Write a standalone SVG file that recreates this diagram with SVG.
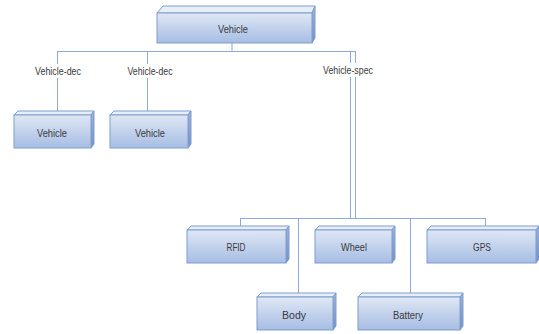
<svg xmlns="http://www.w3.org/2000/svg" width="539" height="334" viewBox="0 0 539 334">
<defs>
<linearGradient id="gf" x1="0" y1="0" x2="0" y2="1">
<stop offset="0" stop-color="#dfe7f5"/>
<stop offset="1" stop-color="#a6bde3"/>
</linearGradient>
<linearGradient id="gs" x1="0" y1="0" x2="0" y2="1">
<stop offset="0" stop-color="#9db4dc"/>
<stop offset="1" stop-color="#7390c4"/>
</linearGradient>
</defs>
<style>
.front{fill:url(#gf);stroke:#7f9dcf;stroke-width:1}
.top{fill:#e8eef8;stroke:#7f9dcf;stroke-width:1}
.side{fill:url(#gs);stroke:#7f9dcf;stroke-width:1}
.lbl{font-family:"Liberation Sans",Arial,sans-serif;font-size:11px;fill:#3a3a3a;text-anchor:middle}
.conn line{stroke:#8eaad8;stroke-width:1;fill:none}
.bg{fill:#ffffff}
</style>
<rect width="539" height="334" fill="#ffffff"/>
<g id="connectors" class="conn">
<line x1="232" y1="43" x2="232" y2="51"/>
<line x1="57" y1="51.5" x2="355" y2="51.5"/>
<line x1="57.5" y1="51" x2="57.5" y2="115"/>
<line x1="147.5" y1="51" x2="147.5" y2="115"/>
<line x1="350.5" y1="51" x2="350.5" y2="218"/>
<line x1="355.5" y1="51" x2="355.5" y2="218"/>
<line x1="240" y1="218.5" x2="485" y2="218.5"/>
<line x1="240.5" y1="218" x2="240.5" y2="227"/>
<line x1="485.5" y1="218" x2="485.5" y2="227"/>
<line x1="298.5" y1="218" x2="298.5" y2="294"/>
<line x1="410.5" y1="218" x2="410.5" y2="294"/>
</g>
<g id="edge-labels">
<rect class="bg" x="34" y="64" width="48" height="14"/>
<text class="lbl" x="58" y="75" textLength="46" lengthAdjust="spacingAndGlyphs">Vehicle-dec</text>
<rect class="bg" x="126" y="64" width="48" height="14"/>
<text class="lbl" x="150" y="75" textLength="45" lengthAdjust="spacingAndGlyphs">Vehicle-dec</text>
<rect class="bg" x="322" y="63" width="52" height="14"/>
<text class="lbl" x="348" y="74" textLength="50" lengthAdjust="spacingAndGlyphs">Vehicle-spec</text>
</g>
<g id="node-vehicle-root">
<polygon class="top" points="157,13 163,6 315,6 312,13"/>
<polygon class="side" points="312,13 315,6 315,38 312,43"/>
<rect class="front" x="157" y="13" width="155" height="30"/>
<text class="lbl" x="233" y="33" textLength="30" lengthAdjust="spacingAndGlyphs">Vehicle</text>
</g>
<g id="node-vehicle-1">
<polygon class="top" points="14,115 18,111 94,111 91,115"/>
<polygon class="side" points="91,115 94,111 94,144 91,148"/>
<rect class="front" x="14" y="115" width="77" height="33"/>
<text class="lbl" x="52" y="137" textLength="30" lengthAdjust="spacingAndGlyphs">Vehicle</text>
</g>
<g id="node-vehicle-2">
<polygon class="top" points="110,115 114,111 191,111 188,115"/>
<polygon class="side" points="188,115 191,111 191,144 188,148"/>
<rect class="front" x="110" y="115" width="78" height="33"/>
<text class="lbl" x="150" y="137" textLength="30" lengthAdjust="spacingAndGlyphs">Vehicle</text>
</g>
<g id="node-rfid">
<polygon class="top" points="187,230 191,226 289,226 286,230"/>
<polygon class="side" points="286,230 289,226 289,259 286,263"/>
<rect class="front" x="187" y="230" width="99" height="33"/>
<text class="lbl" x="236" y="251" textLength="19" lengthAdjust="spacingAndGlyphs">RFID</text>
</g>
<g id="node-wheel">
<polygon class="top" points="315,230 319,226 395,226 392,230"/>
<polygon class="side" points="392,230 395,226 395,259 392,263"/>
<rect class="front" x="315" y="230" width="77" height="33"/>
<text class="lbl" x="354" y="251" textLength="26" lengthAdjust="spacingAndGlyphs">Wheel</text>
</g>
<g id="node-gps">
<polygon class="top" points="427,230 431,226 539,226 536,230"/>
<polygon class="side" points="536,230 539,226 539,259 536,263"/>
<rect class="front" x="427" y="230" width="109" height="33"/>
<text class="lbl" x="482" y="251" textLength="18" lengthAdjust="spacingAndGlyphs">GPS</text>
</g>
<g id="node-body">
<polygon class="top" points="257,297 261,293 336,293 333,297"/>
<polygon class="side" points="333,297 336,293 336,326 333,330"/>
<rect class="front" x="257" y="297" width="76" height="33"/>
<text class="lbl" x="294" y="319" textLength="24" lengthAdjust="spacingAndGlyphs">Body</text>
</g>
<g id="node-battery">
<polygon class="top" points="358,297 362,293 463,293 460,297"/>
<polygon class="side" points="460,297 463,293 463,326 460,330"/>
<rect class="front" x="358" y="297" width="102" height="33"/>
<text class="lbl" x="408" y="319" textLength="30" lengthAdjust="spacingAndGlyphs">Battery</text>
</g>
</svg>
